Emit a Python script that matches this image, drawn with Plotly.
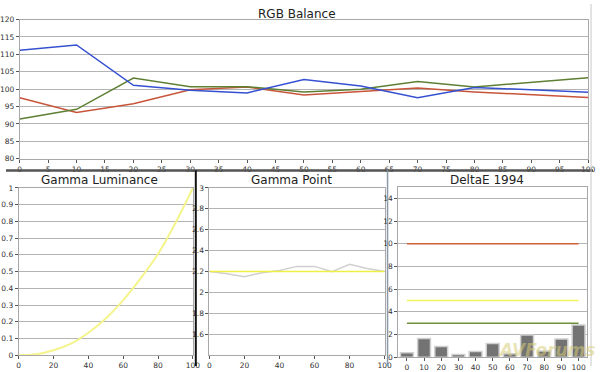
import plotly.graph_objects as go

# ---- data ----
levels = [0, 10, 20, 30, 40, 50, 60, 70, 80, 90, 100]
red_balance = [97.5, 93.3, 95.8, 99.8, 100.6, 98.3, 99.3, 100.3, 99.2, 98.5, 97.6]
green_balance = [91.4, 94.2, 103.2, 100.7, 100.7, 99.2, 100.0, 102.2, 100.6, 101.9, 103.3]
blue_balance = [111.2, 112.7, 101.1, 99.7, 98.9, 102.8, 100.9, 97.5, 100.5, 99.8, 99.1]

gamma_luminance = [0.0, 0.006, 0.03, 0.07, 0.135, 0.22, 0.33, 0.46, 0.605, 0.79, 1.0]
gamma_target = [2.2] * 11
gamma_point = [2.2, 2.18, 2.15, 2.19, 2.21, 2.25, 2.25, 2.2, 2.27, 2.23, 2.2]

delta_cats = ["0", "10", "20", "30", "40", "50", "60", "70", "80", "90", "100"]
delta_e = [0.4, 1.65, 0.95, 0.25, 0.5, 1.2, 0.3, 1.95, 0.55, 1.6, 2.85]
thresholds = [10, 5, 3]
threshold_colors = ["#d4603a", "#f2f25a", "#6f8f3a"]

W, H = 600, 372
def px_x(a, b):
    return [a / W, b / W]
def px_y(top, bottom):
    return [1 - bottom / H, 1 - top / H]

TICKFONT = dict(family="DejaVu Sans, Verdana, sans-serif", size=7.5, color="#333333")
GRID = "#b4b4b4"
LINE = "#a8a8a8"

fig = go.Figure()

# RGB balance
for vals, col in [(red_balance, "#c8553a"), (green_balance, "#5f7f35"), (blue_balance, "#3550d0")]:
    fig.add_trace(go.Scatter(x=levels, y=vals, mode="lines", line=dict(color=col, width=1.5),
                             xaxis="x", yaxis="y", showlegend=False, hoverinfo="skip"))

# Gamma luminance
fig.add_trace(go.Scatter(x=levels, y=gamma_luminance, mode="lines", line=dict(color="#f4f48a", width=2, shape="spline"),
                         xaxis="x2", yaxis="y2", showlegend=False))

# Gamma point
fig.add_trace(go.Scatter(x=levels, y=gamma_point, mode="lines", line=dict(color="#cfcfcf", width=1.5),
                         xaxis="x3", yaxis="y3", showlegend=False))
fig.add_trace(go.Scatter(x=levels, y=gamma_target, mode="lines", line=dict(color="#f0f040", width=1.5),
                         xaxis="x3", yaxis="y3", showlegend=False))

# DeltaE
fig.add_trace(go.Bar(x=delta_cats, y=delta_e, marker=dict(color="#737373", line=dict(color="#d0d0d0", width=1.5)),
                     xaxis="x4", yaxis="y4", showlegend=False))
for t, c in zip(thresholds, threshold_colors):
    fig.add_trace(go.Scatter(x=[delta_cats[0], delta_cats[-1]], y=[t, t], mode="lines",
                             line=dict(color=c, width=1.5), xaxis="x4", yaxis="y4", showlegend=False))

def xax(domain, anchor, **kw):
    d = dict(domain=domain, anchor=anchor, showgrid=False, showline=True, linecolor=LINE, linewidth=1,
             mirror=True, ticks="outside", ticklen=3, tickcolor="#555555", tickfont=TICKFONT, zeroline=False)
    d.update(kw)
    return d

def yax(domain, anchor, **kw):
    d = dict(domain=domain, anchor=anchor, showgrid=True, gridcolor=GRID, gridwidth=1, showline=True,
             linecolor=LINE, linewidth=1, mirror=True, ticks="outside", ticklen=3, tickcolor="#555555",
             tickfont=TICKFONT, zeroline=False)
    d.update(kw)
    return d

fig.update_layout(
    width=W, height=H, margin=dict(l=0, r=0, t=0, b=0),
    paper_bgcolor="white", plot_bgcolor="white",
    bargap=0.25,
    xaxis=xax(px_x(14, 595), "y", range=[0, 100], dtick=5, tick0=0),
    yaxis=yax(px_y(16, 159), "x", range=[80, 120], dtick=5),
    xaxis2=xax(px_x(13, 191), "y2", range=[0, 100], dtick=20, tick0=0),
    yaxis2=yax(px_y(189, 361), "x2", range=[0, 1], dtick=0.1),
    xaxis3=xax(px_x(208, 387), "y3", range=[0, 100], dtick=20, tick0=0),
    yaxis3=yax(px_y(189, 361), "x3", range=[1.4, 3], tickmode="array",
               tickvals=[1.6, 1.8, 2.0, 2.2, 2.4, 2.6, 2.8, 3.0],
               ticktext=["1.6", "1.8", "2", "2.2", "2.4", "2.6", "2.8", "3"]),
    xaxis4=xax(px_x(401, 594), "y4", type="category", range=[-0.5, 10.5]),
    yaxis4=yax(px_y(188, 363), "x4", range=[0, 15], dtick=2),
)

TITLEFONT = dict(family="DejaVu Sans, Verdana, sans-serif", size=12, color="#222222")
for text, cx, cy in [("RGB Balance", 297, 10), ("Gamma Luminance", 96, 181),
                     ("Gamma Point", 292, 181), ("DeltaE 1994", 492, 181)]:
    fig.add_annotation(text=text, x=cx / W, y=1 - cy / H, xref="paper", yref="paper",
                       showarrow=False, font=TITLEFONT, xanchor="center", yanchor="middle")

# watermark
fig.add_annotation(text="<b><i>AVForums</i></b>", x=552 / W, y=1 - 356 / H, xref="paper", yref="paper",
                   showarrow=False, font=dict(family="DejaVu Sans", size=17, color="rgba(215,205,120,0.55)"),
                   xanchor="center", yanchor="middle")

# panel separators
fig.add_shape(type="line", xref="paper", yref="paper", x0=0, x1=1, y0=1 - 171 / H, y1=1 - 171 / H,
              line=dict(color="#555555", width=2.5), layer="above")
fig.add_shape(type="line", xref="paper", yref="paper", x0=194 / W, x1=194 / W, y0=0, y1=1 - 171 / H,
              line=dict(color="#111111", width=2), layer="above")
fig.add_shape(type="line", xref="paper", yref="paper", x0=390 / W, x1=390 / W, y0=0, y1=1 - 171 / H,
              line=dict(color="#8a9aa8", width=1.5), layer="above")
fig.add_shape(type="line", xref="paper", yref="paper", x0=598 / W, x1=598 / W, y0=0, y1=1,
              line=dict(color="#c8c8c8", width=1), layer="above")

fig.write_html("out.html", config={"displayModeBar": False},
               post_script="document.body.style.margin='0px';document.body.style.overflow='hidden';")
